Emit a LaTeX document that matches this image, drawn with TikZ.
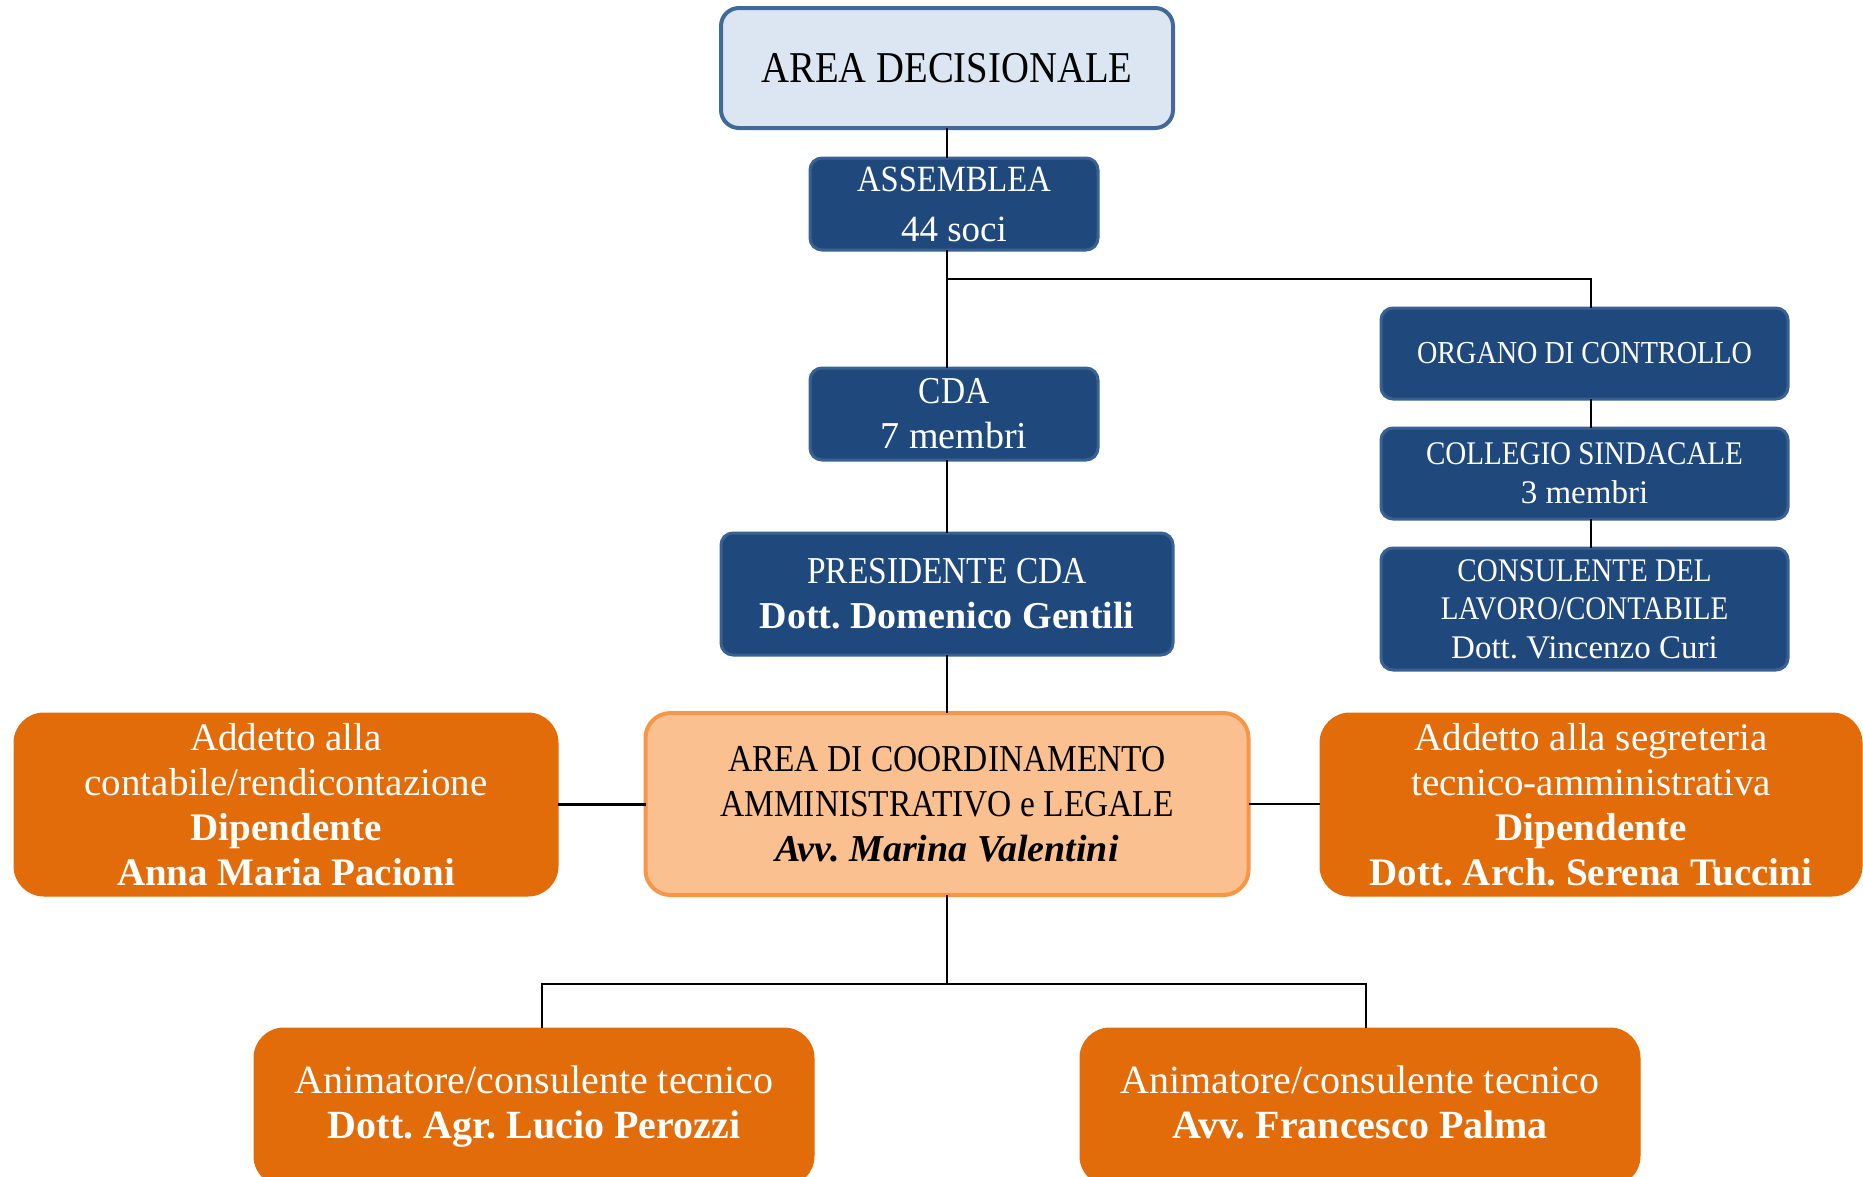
\documentclass[tikz,border=0pt]{standalone}
\usepackage{fontspec}
\setmainfont{Liberation Serif}
\newfontfamily\capsf[FakeStretch=0.88]{Liberation Serif}
\definecolor{decfill}{HTML}{DCE6F2}
\definecolor{decdraw}{HTML}{3F6A9A}
\definecolor{bluefill}{HTML}{1F497D}
\definecolor{bluedraw}{HTML}{3A6191}
\definecolor{orfill}{HTML}{E36C0A}
\definecolor{coordfill}{HTML}{FAC090}
\definecolor{coorddraw}{HTML}{F79646}
\tikzset{
  box/.style={rectangle, align=center, inner sep=0pt, outer sep=0pt},
  decbox/.style={box, fill=decfill, draw=decdraw, line width=4pt, rounded corners=18pt, text=black},
  bluebox/.style={box, fill=bluefill, draw=bluedraw, line width=3pt, rounded corners=12pt, text=white},
  orbox/.style={box, fill=orfill, draw=orfill, line width=1pt, rounded corners=30pt, text=white},
  coordbox/.style={box, fill=coordfill, draw=coorddraw, line width=4pt, rounded corners=25pt, text=black},
  link/.style={line width=2.5pt, black},
  fs/.style 2 args={font={\fontsize{#1}{#2}\selectfont\frenchspacing}}
}
\begin{document}
\begin{tikzpicture}[x=1pt, y=-1pt]
\fill[white] (0,0) rectangle (1863,1176);
\useasboundingbox (0,0) rectangle (1863,1176);

% nodes
\node[decbox, fs={44}{50}, minimum width=452pt, minimum height=120pt] (dec) at (947,68) {{\capsf AREA DECISIONALE}};
\node[bluebox, fs={37}{50}, minimum width=288pt, minimum height=92pt] (ass) at (954,204) {{\capsf ASSEMBLEA}\\44 soci};
\node[bluebox, fs={38}{45}, minimum width=288pt, minimum height=92pt] (cda) at (954,414) {{\capsf CDA}\\7 membri};
\node[bluebox, fs={38}{45}, minimum width=452pt, minimum height=122pt] (pres) at (947,594) {{\capsf PRESIDENTE CDA}\\\textbf{Dott. Domenico Gentili}};

\node[bluebox, fs={32}{39}, minimum width=407pt, minimum height=91pt] (org) at (1584.5,353.5) {{\capsf ORGANO DI CONTROLLO}};
\node[bluebox, fs={33}{39}, minimum width=407pt, minimum height=91pt] (col) at (1584.5,473.5) {{\capsf COLLEGIO SINDACALE}\\3 membri};
\node[bluebox, fs={33}{38.5}, minimum width=407pt, minimum height=122pt] (cons) at (1584.5,609) {{\capsf CONSULENTE DEL}\\{\capsf LAVORO/CONTABILE}\\Dott. Vincenzo Curi};

\node[orbox, fs={39}{45}, minimum width=544pt, minimum height=183pt] (left) at (286,804.5) {Addetto alla\\contabile/rendicontazione\\\textbf{Dipendente}\\\textbf{Anna Maria Pacioni}};
\node[coordbox, fs={38}{45}, minimum width=603pt, minimum height=182pt] (coord) at (947,804) {{\capsf AREA DI COORDINAMENTO}\\{\capsf AMMINISTRATIVO e LEGALE}\\\textbf{\textit{Avv. Marina Valentini}}};
\node[orbox, fs={39}{45}, minimum width=542pt, minimum height=183pt] (right) at (1591,804.5) {Addetto alla segreteria\\tecnico-amministrativa\\\textbf{Dipendente}\\\textbf{Dott. Arch. Serena Tuccini}};

\node[orbox, fs={40}{45}, minimum width=560pt, minimum height=158pt] (bl) at (534,1107) {\strut Animatore/consulente tecnico\\\textbf{Dott. Agr. Lucio Perozzi}\strut};
\node[orbox, fs={40}{45}, minimum width=560pt, minimum height=158pt] (br) at (1360,1107) {\strut Animatore/consulente tecnico\\\textbf{Avv. Francesco Palma}\strut};

\coordinate (j1) at (947,279);
\coordinate (j2) at (947,984);

% connectors
\draw[link] (dec.south) -- (dec.south |- ass.north);
\draw[link] (dec.south |- ass.south) -- (dec.south |- cda.north);
\draw[link] (j1) -| ([xshift=6.5pt]org.north);
\draw[link] (dec.south |- cda.south) -- (pres.north);
\draw[link] (pres.south) -- (pres.south |- coord.north);
\draw[link] ([xshift=6.5pt]org.south) -- ([xshift=6.5pt]col.north);
\draw[link] ([xshift=6.5pt]col.south) -- ([xshift=6.5pt]cons.north);
\draw[link] (left.east) -- (left.east -| coord.west);
\draw[link] (coord.east) -- (coord.east -| right.west);
\draw[link] (coord.south) -- (j2);
\draw[link] ([xshift=8pt]bl.north) -- ([xshift=8pt]bl.north |- j2) -- ([xshift=6pt]br.north |- j2) -- ([xshift=6pt]br.north);
\end{tikzpicture}
\end{document}
